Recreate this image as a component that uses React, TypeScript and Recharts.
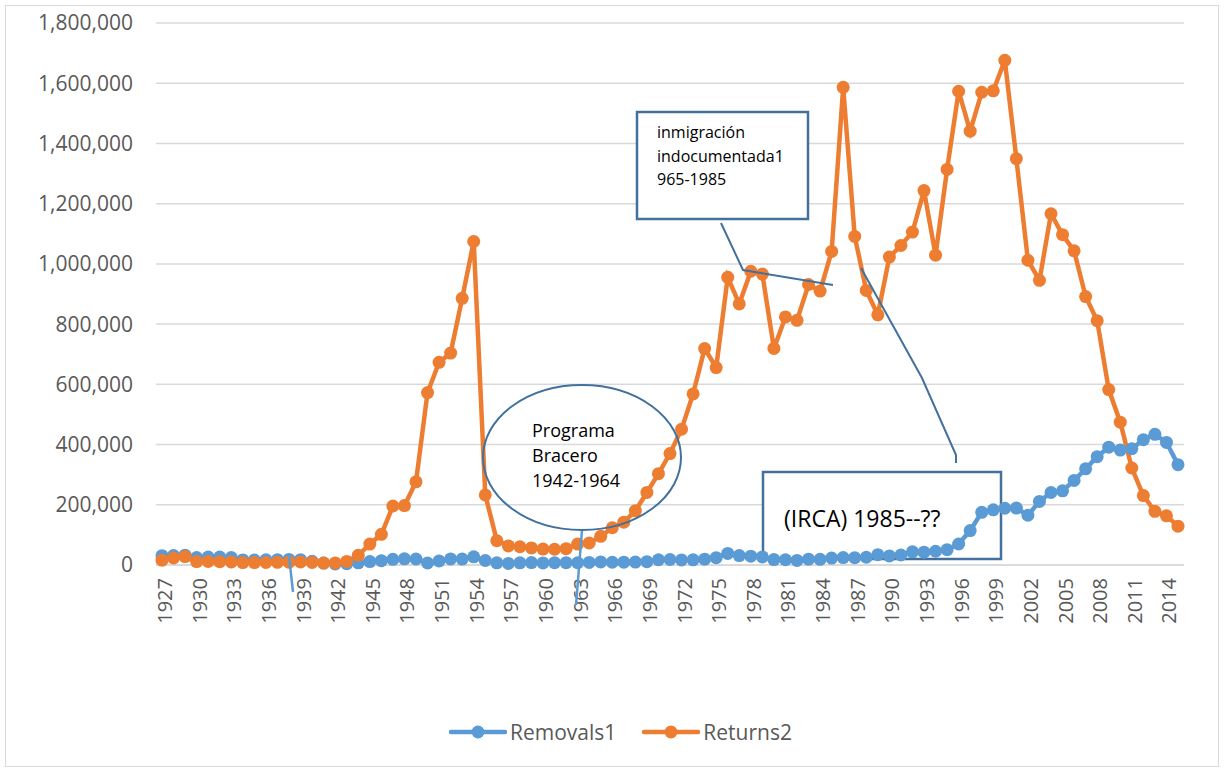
import React from 'react';
import { LineChart, Line, XAxis, YAxis, CartesianGrid, Legend, Customized } from 'recharts';

const years: number[] = [];
for (let y = 1927; y <= 2015; y++) years.push(y);

const removals: number[] = [
  31000, 31600, 32700, 24900, 26500, 26500, 25000, 16900, 16300, 17400,
  17600, 18600, 17800, 12300, 6500, 3700, 4200, 7200, 11300, 14400,
  18700, 20400, 20000, 6600, 13500, 20200, 19800, 27000, 15000, 7300,
  5100, 7100, 8000, 6800, 7400, 7600, 7500, 8700, 10100, 9200,
  9300, 9600, 11000, 17500, 18300, 16900, 17300, 19400, 24400, 38500,
  31300, 29300, 26800, 18000, 17400, 15200, 19200, 18700, 23100, 24600,
  24300, 25800, 34400, 30000, 33200, 43700, 42500, 45700, 50900, 69700,
  114400, 174800, 183100, 188500, 189000, 165200, 211100, 240700, 246400, 281000,
  319400, 359800, 391300, 381700, 386000, 416300, 434000, 407100, 333300,
];

const returns: number[] = [
  15900, 23600, 28000, 11400, 11700, 10800, 10300, 8000, 8000, 8300,
  8800, 9300, 10200, 8600, 6500, 6900, 11900, 32300, 69500, 101900,
  195900, 197200, 276300, 572600, 673200, 703800, 885600, 1074300, 232800, 80900,
  63400, 60600, 56600, 52800, 52400, 54200, 69400, 73000, 95300, 123700,
  142300, 180000, 241000, 303300, 370100, 450900, 568000, 718700, 655800, 955400,
  867000, 975500, 966100, 719200, 823900, 812600, 931600, 909800, 1041300, 1586300,
  1091200, 911800, 830900, 1022500, 1061100, 1105800, 1243400, 1029100, 1313800, 1573400,
  1440700, 1570100, 1574900, 1675900, 1349400, 1012100, 945300, 1166600, 1096900, 1043400,
  891400, 811300, 582600, 474200, 322100, 230400, 178400, 163200, 129100,
];

const yTicks: number[] = [0, 200000, 400000, 600000, 800000, 1000000, 1200000, 1400000, 1600000, 1800000];

const seriesNames = ['Removals1', 'Returns2'];
const BLUE = '#5B9BD5';
const ORANGE = '#ED7D31';
const DARK = '#41719C';
const FONT = '"Open Sans", "Liberation Sans", sans-serif';

const data = years.map((y, i) => ({ year: String(y), removals: removals[i], returns: returns[i] }));

const XTick = (props: any) => {
  const { x, y, payload } = props;
  return (
    <text
      transform={`translate(${x + 10},${y}) rotate(-90)`}
      textAnchor="end"
      fontSize={20}
      fontFamily={FONT}
      fill="#595959"
    >
      {payload.value}
    </text>
  );
};

const LegendContent = () => (
  <div style={{ display: 'flex', alignItems: 'center', fontFamily: FONT, fontSize: 21, color: '#595959' }}>
    {[BLUE, ORANGE].map((c, i) => (
      <div key={i} style={{ display: 'flex', alignItems: 'center', marginRight: i === 0 ? 26 : 0 }}>
        <svg width={58} height={16} style={{ marginRight: 3 }}>
          <line x1={2} y1={8} x2={56} y2={8} stroke={c} strokeWidth={4.5} strokeLinecap="round" />
          <circle cx={29} cy={8} r={6.5} fill={c} />
        </svg>
        <span>{seriesNames[i]}</span>
      </div>
    ))}
  </div>
);

const IrcaBox = () => (
  <g>
    <rect x={763} y={472} width={238} height={87} fill="#FFFFFF" stroke={DARK} strokeWidth={2.5} />
    <text x={784} y={527} fontSize={23} fontFamily={FONT} fill="#000000">(IRCA) 1985--??</text>
  </g>
);

export default function App() {
  return (
    <div style={{ position: 'absolute', left: 0, top: 0, width: 1226, height: 773, background: '#FFFFFF' }}>
      <div style={{ position: 'absolute', left: 5, top: 5, width: 1214, height: 762, border: '1.5px solid #D9D9D9', boxSizing: 'border-box' }} />
      <LineChart
        width={1226}
        height={773}
        data={data}
        margin={{ top: 23, right: 42, bottom: 138, left: 0 }}
      >
        <CartesianGrid vertical={false} stroke="#D9D9D9" strokeWidth={1.5} />
        <XAxis
          dataKey="year"
          interval={2}
          padding={{ left: 6, right: 6 }}
          tick={<XTick />}
          tickLine={false}
          tickSize={0}
          tickMargin={13}
          height={70}
          axisLine={{ stroke: '#D9D9D9', strokeWidth: 1.5 }}
        />
        <YAxis
          type="number"
          domain={[0, 1800000]}
          ticks={yTicks}
          width={156}
          tickLine={false}
          axisLine={false}
          tickSize={0}
          tickMargin={23}
          tickFormatter={(v: number) => v.toLocaleString('en-US')}
          tick={{ fontSize: 21, fill: '#595959', fontFamily: FONT }}
        />
        <Customized component={IrcaBox} />
        <Line
          dataKey="removals"
          name={seriesNames[0]}
          stroke={BLUE}
          strokeWidth={4.5}
          dot={{ r: 6.5, fill: BLUE, stroke: 'none' }}
          activeDot={false}
          isAnimationActive={false}
        />
        <Line
          dataKey="returns"
          name={seriesNames[1]}
          stroke={ORANGE}
          strokeWidth={4.5}
          dot={{ r: 6.5, fill: ORANGE, stroke: 'none' }}
          activeDot={false}
          isAnimationActive={false}
        />
        <Legend
          layout="horizontal"
          verticalAlign="middle"
          align="center"
          wrapperStyle={{ top: 718, left: 449, width: 380 }}
          content={<LegendContent />}
        />
      </LineChart>
      <svg width={1226} height={773} style={{ position: 'absolute', left: 0, top: 0, pointerEvents: 'none' }}>
        <line x1={289} y1={556} x2={293} y2={592} stroke={BLUE} strokeWidth={2.5} />
        <line x1={582} y1={530} x2={576} y2={605} stroke={BLUE} strokeWidth={2.5} />
        <ellipse cx={582} cy={457.5} rx={99} ry={72.5} fill="none" stroke={DARK} strokeWidth={2} />
        <text fontSize={18} fontFamily={FONT} fill="#000000">
          <tspan x={532} y={437}>Programa</tspan>
          <tspan x={532} y={462}>Bracero</tspan>
          <tspan x={532} y={487}>1942-1964</tspan>
        </text>
        <rect x={637} y={112} width={171} height={107} fill="#FFFFFF" stroke={DARK} strokeWidth={2.5} />
        <text fontSize={16} fontFamily={FONT} fill="#000000">
          <tspan x={657} y={138}>inmigración</tspan>
          <tspan x={657} y={162}>indocumentada1</tspan>
          <tspan x={657} y={185}>965-1985</tspan>
        </text>
        <polyline points="721,223 743,270 833,285" fill="none" stroke={DARK} strokeWidth={2} />
        <polyline points="861,268 922,378 956,455 956,463" fill="none" stroke={DARK} strokeWidth={2} />
      </svg>
    </div>
  );
}
